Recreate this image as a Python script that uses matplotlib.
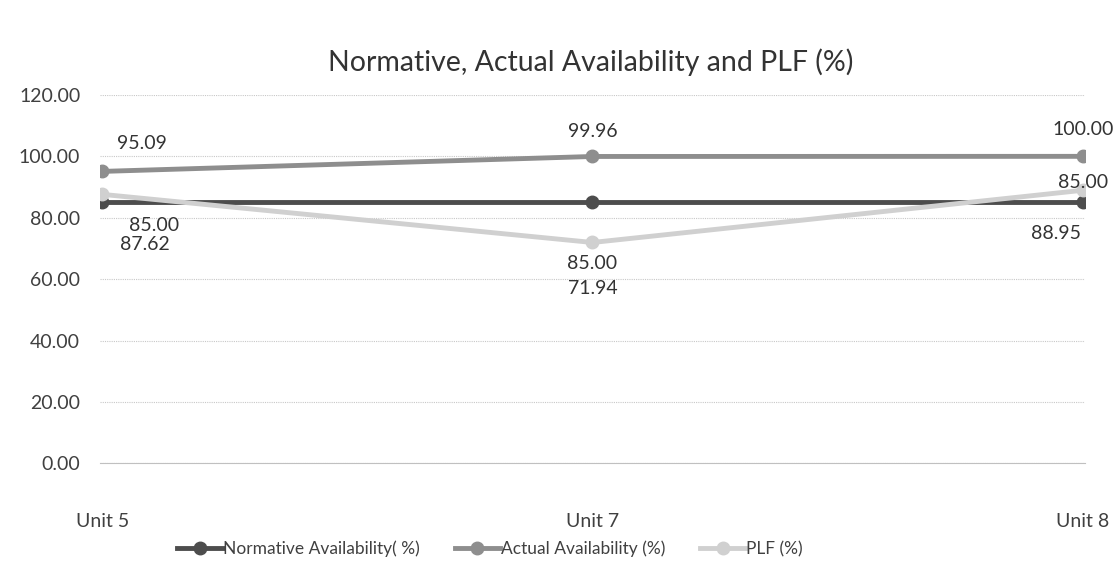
import matplotlib.pyplot as plt

units = ["Unit 5", "Unit 7", "Unit 8"]
normative = [85.00, 85.00, 85.00]
actual = [95.09, 99.96, 100.00]
plf = [87.62, 71.94, 88.95]
yticks = [0, 20, 40, 60, 80, 100, 120]

plt.rcParams['font.family'] = ['Lato', 'DejaVu Sans']

fig = plt.figure(figsize=(11.2, 5.72), dpi=100)
ax = fig.add_axes([0.089, 0.19, 0.88, 0.644])

x = list(range(len(units)))
series = [
    ("Normative Availability( %)", normative, "#4d4d4d"),
    ("Actual Availability (%)", actual, "#8e8e8e"),
    ("PLF (%)", plf, "#d0d0d0"),
]
for name, vals, col in series:
    ax.plot(x, vals, color=col, lw=3.5, marker="o", ms=9, label=name, zorder=3)

# data label offsets in pixels, placed as in the original chart
offsets = {
    "actual": [(40, 28), (0, 25), (0, 27)],
    "normative": [(52, -23), (0, -61), (0, 20)],
    "plf": [(43, -50), (0, -46), (-27, -43)],
}
for key, vals in [("actual", actual), ("normative", normative), ("plf", plf)]:
    for i, v in enumerate(vals):
        ax.annotate(f"{v:.2f}", (x[i], v), xytext=offsets[key][i],
                    textcoords="offset pixels", ha="center", va="center",
                    fontsize=14, color="#333333", zorder=4)

ax.set_xlim(-0.005, 2.005)
ax.set_ylim(0, 120)
ax.set_yticks(yticks)
ax.set_yticklabels([f"{t:.2f}" for t in yticks], fontsize=14, color="#404040")
ax.set_xticks(x)
ax.set_xticklabels(units, fontsize=14, color="#404040")
ax.tick_params(length=0)
ax.tick_params(axis="x", pad=36)
ax.tick_params(axis="y", pad=14)
ax.grid(axis="y", color="#c8c8c8", linestyle=(0, (1, 1)), lw=0.8)
for s in ax.spines.values():
    s.set_visible(False)
ax.spines["bottom"].set_visible(True)
ax.spines["bottom"].set_color("#c0c0c0")
ax.spines["bottom"].set_linewidth(0.8)

fig.suptitle("Normative, Actual Availability and PLF (%)", x=0.527, y=0.915,
             fontsize=20.5, color="#333333")

fig.legend(loc="center", bbox_to_anchor=(0.4375, 0.04), ncol=3, frameon=False,
           fontsize=12.5, handlelength=2.6, columnspacing=2.0, handletextpad=0.05,
           labelcolor="#404040")

fig.savefig("out.png", dpi=100, facecolor="white")
